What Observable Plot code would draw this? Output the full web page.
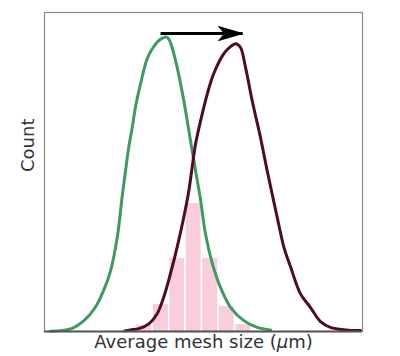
<!DOCTYPE html>
<html>
<head>
<meta charset="utf-8">
<script src="https://cdn.jsdelivr.net/npm/d3@7"></script>
<script src="https://cdn.jsdelivr.net/npm/@observablehq/plot@0.6"></script>
<style>
  html, body { margin: 0; padding: 0; background: #fff; }
  #chart svg { display: block; }
</style>
</head>
<body>
<div id="chart"></div>
<script>
// Before (green) distribution: mesh size (arbitrary units) vs count
const greenX = [1.9, 8.2, 12.4, 16.0, 18.6, 20.8, 22.9, 24.4, 25.5, 26.5, 27.6, 28.6, 29.7, 30.7, 32.1, 33.3, 35.4, 36.8, 38.1, 39.0, 39.9, 41.7, 43.8, 45.9, 47.5, 49.1, 50.6, 52.7, 55.3, 58.5, 62.7, 66.9, 71.1];
const greenY = [0.1, 0.8, 3.4, 7.6, 12.9, 19.1, 29.6, 42.1, 50.5, 57.8, 64.0, 70.3, 75.5, 79.7, 85.0, 87.6, 90.7, 91.8, 92.3, 91.8, 89.7, 82.9, 72.4, 59.9, 50.5, 41.1, 30.7, 21.6, 13.9, 7.6, 3.4, 1.3, 0.5];

// After (dark red) distribution
const darkX = [25.2, 27.0, 29.7, 32.8, 35.4, 37.5, 39.6, 41.7, 43.8, 45.4, 46.5, 47.5, 49.1, 51.2, 53.2, 56.4, 58.5, 60.1, 61.6, 63.2, 65.3, 67.9, 70.0, 71.7, 73.2, 75.3, 77.4, 80.5, 83.6, 86.8, 89.9, 94.7, 99.4];
const darkY = [0.2, 0.5, 0.9, 2.4, 5.5, 10.8, 18.1, 26.4, 35.8, 44.2, 52.0, 58.8, 66.1, 74.5, 80.8, 87.1, 89.3, 90.2, 89.1, 82.9, 72.4, 60.9, 50.5, 42.6, 35.7, 26.4, 20.2, 11.8, 7.6, 3.1, 1.3, 0.5, 0.3];

// Histogram bins (edges) and counts
const binEdges = [28.8, 34.0, 39.2, 44.3, 49.5, 54.7, 59.9, 65.1];
const binCounts = [1.9, 8.5, 22.9, 40.1, 22.9, 7.8, 2.2];

// Shift arrow (from, to)
const arrowX = [36.5, 62.3];
const arrowY = [93.4, 93.4];

const xLabel = "Average mesh size (μm)";
const yLabel = "Count";

const green = greenX.map((x, i) => ({x, y: greenY[i]}));
const dark = darkX.map((x, i) => ({x, y: darkY[i]}));
const bins = binCounts.map((c, i) => ({x1: binEdges[i], x2: binEdges[i + 1], y: c}));
const arrow = [{x1: arrowX[0], x2: arrowX[1], y1: arrowY[0], y2: arrowY[1]}];

// Filled "stealth" arrowhead symbol with its tip at the origin, pointing right
const stealth = {
  draw(ctx) {
    ctx.moveTo(0, 0);
    ctx.lineTo(-24, -7);
    ctx.lineTo(-18, 0);
    ctx.lineTo(-24, 7);
    ctx.closePath();
  }
};

const chart = Plot.plot({
  width: 400,
  height: 356,
  marginTop: 12,
  marginBottom: 25,
  marginLeft: 44,
  marginRight: 38,
  style: {background: "#fff", fontFamily: "DejaVu Sans"},
  x: {domain: [0, 100], axis: null},
  y: {domain: [0, 100], axis: null},
  marks: [
    Plot.rectY(bins, {x1: "x1", x2: "x2", y: "y", fill: "#f9cdd9", insetLeft: 0.8, insetRight: 0.8}),
    Plot.line(green, {x: "x", y: "y", stroke: "#3e9a60", strokeWidth: 3, curve: "catmull-rom"}),
    Plot.line(dark, {x: "x", y: "y", stroke: "#4e0c1e", strokeWidth: 3, curve: "catmull-rom"}),
    Plot.link(arrow, {x1: "x1", x2: "x2", y1: "y1", y2: "y2", stroke: "#000", strokeWidth: 3}),
    Plot.dot(arrow, {x: "x2", y: "y2", symbol: stealth, fill: "#000", stroke: "#000", strokeWidth: 1, strokeLinejoin: "round"}),
    Plot.frame({stroke: "#8a8a8a", strokeWidth: 1.2}),
    Plot.ruleY([0], {stroke: "#555", strokeWidth: 2}),
    Plot.text([xLabel], {frameAnchor: "bottom", text: d => d, dy: 16, lineAnchor: "bottom", fontSize: 18, fill: "#333", className: "xlabel"}),
    Plot.text([yLabel], {frameAnchor: "left", text: d => d, dx: -11, rotate: -90, lineAnchor: "bottom", fontSize: 18, fill: "#333"})
  ]
});
document.getElementById("chart").appendChild(chart);

// Render the μ in italic, as in the original mathtext label
d3.select(chart).selectAll("g.xlabel text").each(function () {
  const t = d3.select(this);
  const s = t.text();
  const i = s.indexOf("μ");
  if (i < 0) return;
  t.text(null);
  t.append("tspan").text(s.slice(0, i));
  t.append("tspan").attr("font-style", "italic").text("μ");
  t.append("tspan").text(s.slice(i + 1));
});
</script>
</body>
</html>
